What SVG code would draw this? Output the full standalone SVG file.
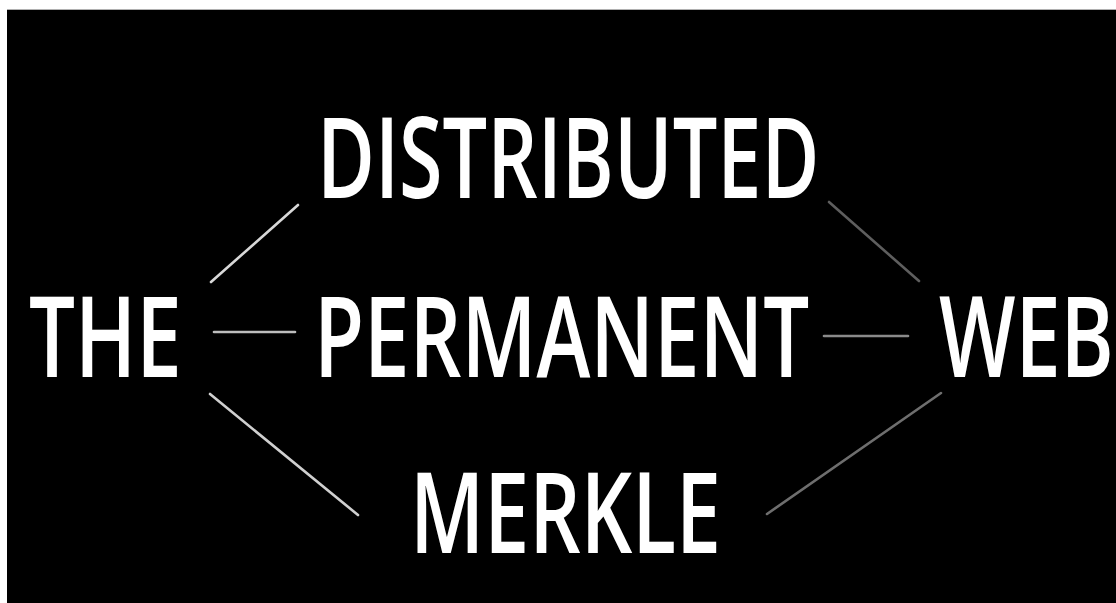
<svg xmlns="http://www.w3.org/2000/svg" width="1116" height="603" viewBox="0 0 1116 603">
<style>
.lbl{font-family:"Open Sans","Liberation Sans",sans-serif;font-size:112px;fill:#ffffff;font-weight:600}
.ln{stroke-width:2.6;stroke-linecap:round;fill:none}
</style>
<rect x="0" y="0" width="1116" height="603" fill="#ffffff"/>
<rect x="7" y="9" width="1109" height="1" fill="#b0b0b0"/>
<rect x="7" y="10" width="1109" height="593" fill="#000000"/>
<g id="connectors">
<line class="ln" x1="211" y1="282" x2="298" y2="205" stroke="#d8d8d8"/>
<line class="ln" x1="214" y1="332" x2="295" y2="332" stroke="#bdbdbd"/>
<line class="ln" x1="210" y1="394" x2="358" y2="515" stroke="#d0d0d0"/>
<line class="ln" x1="829" y1="202" x2="919" y2="281" stroke="#5e5e5e"/>
<line class="ln" x1="824" y1="336" x2="908" y2="336" stroke="#8a8a8a"/>
<line class="ln" x1="767" y1="514" x2="941" y2="393" stroke="#6e6e6e"/>
</g>
<g id="node-the"><text class="lbl" transform="translate(29,377) scale(0.728,1)">THE</text></g>
<g id="node-distributed"><text class="lbl" transform="translate(317,198) scale(0.706,1)">DISTRIBUTED</text></g>
<g id="node-permanent"><text class="lbl" transform="translate(314,377) scale(0.727,1)">PERMANENT</text></g>
<g id="node-merkle"><text class="lbl" transform="translate(410,553) scale(0.72,1)">MERKLE</text></g>
<g id="node-web"><text class="lbl" transform="translate(939,377) scale(0.722,1)">WEB</text></g>
</svg>
